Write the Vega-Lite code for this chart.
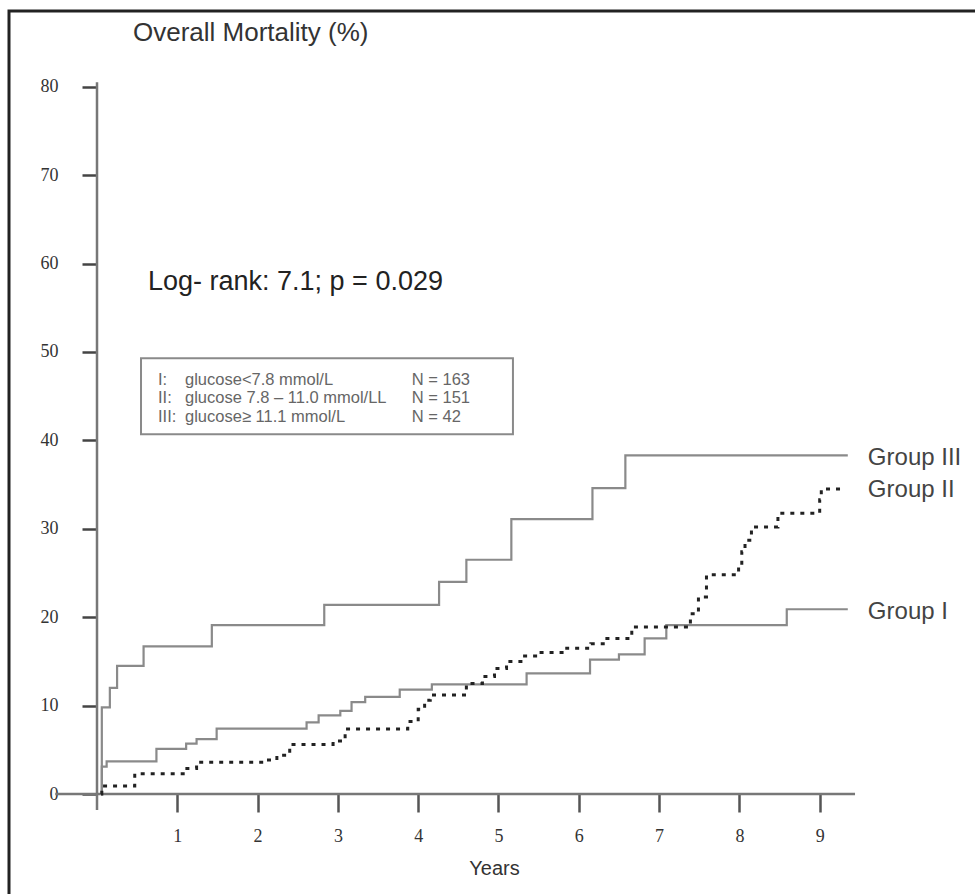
{
  "$schema": "https://vega.github.io/schema/vega-lite/v6.json",
  "width": 970,
  "height": 890,
  "autosize": {"type": "none"},
  "padding": {"left": 9, "top": 11, "right": 0, "bottom": 0},
  "background": "white",
  "config": {
    "view": {"stroke": "#222222", "strokeWidth": 3},
    "axis": {"grid": false, "domain": false, "title": null}
  },
  "datasets": {
    "curves": [
      {"group": "III", "t": 0.05, "v": 0},
      {"group": "III", "t": 0.06, "v": 9.8},
      {"group": "III", "t": 0.16, "v": 12.0},
      {"group": "III", "t": 0.25, "v": 14.5},
      {"group": "III", "t": 0.58, "v": 16.7},
      {"group": "III", "t": 1.43, "v": 19.1},
      {"group": "III", "t": 2.83, "v": 21.4},
      {"group": "III", "t": 4.26, "v": 24.0},
      {"group": "III", "t": 4.6, "v": 26.5},
      {"group": "III", "t": 5.16, "v": 31.1},
      {"group": "III", "t": 6.17, "v": 34.6},
      {"group": "III", "t": 6.58, "v": 38.3},
      {"group": "III", "t": 9.35, "v": 38.3},
      {"group": "I", "t": 0.05, "v": 0},
      {"group": "I", "t": 0.06, "v": 3.1},
      {"group": "I", "t": 0.12, "v": 3.7},
      {"group": "I", "t": 0.74, "v": 5.1},
      {"group": "I", "t": 1.11, "v": 5.7},
      {"group": "I", "t": 1.24, "v": 6.2},
      {"group": "I", "t": 1.49, "v": 7.4},
      {"group": "I", "t": 2.61, "v": 8.1},
      {"group": "I", "t": 2.76, "v": 8.9},
      {"group": "I", "t": 3.03, "v": 9.4},
      {"group": "I", "t": 3.17, "v": 10.4},
      {"group": "I", "t": 3.34, "v": 11.0},
      {"group": "I", "t": 3.77, "v": 11.8},
      {"group": "I", "t": 4.17, "v": 12.4},
      {"group": "I", "t": 5.35, "v": 13.65},
      {"group": "I", "t": 6.14, "v": 15.2},
      {"group": "I", "t": 6.5, "v": 15.8},
      {"group": "I", "t": 6.82, "v": 17.6},
      {"group": "I", "t": 7.09, "v": 19.1},
      {"group": "I", "t": 8.59, "v": 20.9},
      {"group": "I", "t": 9.35, "v": 20.9},
      {"group": "II", "t": 0.05, "v": 0},
      {"group": "II", "t": 0.06, "v": 0.9},
      {"group": "II", "t": 0.47, "v": 2.3},
      {"group": "II", "t": 1.1, "v": 2.9},
      {"group": "II", "t": 1.24, "v": 3.6},
      {"group": "II", "t": 2.07, "v": 3.85},
      {"group": "II", "t": 2.24, "v": 4.4},
      {"group": "II", "t": 2.4, "v": 5.6},
      {"group": "II", "t": 2.94, "v": 6.0},
      {"group": "II", "t": 3.09, "v": 7.35},
      {"group": "II", "t": 3.87, "v": 8.2},
      {"group": "II", "t": 4.0, "v": 9.6},
      {"group": "II", "t": 4.08, "v": 10.6},
      {"group": "II", "t": 4.15, "v": 11.2},
      {"group": "II", "t": 4.6, "v": 12.5},
      {"group": "II", "t": 4.8, "v": 13.3},
      {"group": "II", "t": 4.95, "v": 14.2},
      {"group": "II", "t": 5.1, "v": 15.0},
      {"group": "II", "t": 5.3, "v": 15.6},
      {"group": "II", "t": 5.5, "v": 16.0},
      {"group": "II", "t": 5.85, "v": 16.5},
      {"group": "II", "t": 6.15, "v": 17.0},
      {"group": "II", "t": 6.35, "v": 17.6},
      {"group": "II", "t": 6.66, "v": 18.9},
      {"group": "II", "t": 7.39, "v": 20.4},
      {"group": "II", "t": 7.49, "v": 22.3},
      {"group": "II", "t": 7.59, "v": 24.8},
      {"group": "II", "t": 7.99, "v": 26.1},
      {"group": "II", "t": 8.03, "v": 27.4},
      {"group": "II", "t": 8.07, "v": 28.7},
      {"group": "II", "t": 8.15, "v": 30.2},
      {"group": "II", "t": 8.48, "v": 31.75},
      {"group": "II", "t": 9.0, "v": 33.3},
      {"group": "II", "t": 9.02, "v": 34.5},
      {"group": "II", "t": 9.3, "v": 34.5}
    ],
    "axislines": [
      {"x": -0.52, "x2": 9.44, "y": 0, "y2": 0},
      {"x": 0, "x2": 0, "y": -1.8, "y2": 80.5}
    ],
    "box": [{"x": 0.548, "x2": 5.18, "y": 49.3, "y2": 40.7}],
    "labels": [
      {"x": 0.448, "y": 86.1, "text": "Overall Mortality (%)", "kind": "title"},
      {"x": 0.635, "y": 57.9, "text": "Log- rank: 7.1; p = 0.029", "kind": "logrank"},
      {"x": 9.6, "y": 38.0, "text": "Group III", "kind": "group"},
      {"x": 9.6, "y": 34.4, "text": "Group II", "kind": "group"},
      {"x": 9.6, "y": 20.6, "text": "Group I", "kind": "group"},
      {"x": 0.76, "y": 46.8, "text": "I:", "kind": "legend"},
      {"x": 1.096, "y": 46.8, "text": "glucose<7.8 mmol/L", "kind": "legend"},
      {"x": 3.92, "y": 46.8, "text": "N = 163", "kind": "legend"},
      {"x": 0.76, "y": 44.75, "text": "II:", "kind": "legend"},
      {"x": 1.096, "y": 44.75, "text": "glucose 7.8 – 11.0 mmol/LL", "kind": "legend"},
      {"x": 3.92, "y": 44.75, "text": "N = 151", "kind": "legend"},
      {"x": 0.76, "y": 42.6, "text": "III:", "kind": "legend"},
      {"x": 1.096, "y": 42.6, "text": "glucose≥ 11.1 mmol/L", "kind": "legend"},
      {"x": 3.92, "y": 42.6, "text": "N = 42", "kind": "legend"}
    ]
  },
  "layer": [
    {
      "data": {"name": "axislines"},
      "mark": {"type": "rule", "color": "#777777", "strokeWidth": 2.5},
      "encoding": {
        "x": {"field": "x", "type": "quantitative", "scale": {"domain": [-1.096, 10.984], "nice": false, "zero": false},
          "axis": {"values": [1, 2, 3, 4, 5, 6, 7, 8, 9], "format": "d", "orient": "bottom", "offset": -107, "tickSize": 18, "tickWidth": 2.5, "tickColor": "#555555",
            "labelFont": "Liberation Serif", "labelFontSize": 18, "labelColor": "#333333", "labelPadding": 15, "labelDx": 3,
            "title": "Years", "titleFont": "Liberation Sans", "titleFontSize": 20, "titleFontWeight": "normal", "titleColor": "#333333", "titlePadding": 13}},
        "x2": {"field": "x2"},
        "y": {"field": "y", "type": "quantitative", "scale": {"domain": [-12.1, 88.57], "nice": false, "zero": false},
          "axis": {"values": [0, 10, 20, 30, 40, 50, 60, 70, 80], "orient": "left", "offset": -88, "tickSize": 15, "tickWidth": 2.5, "tickColor": "#444444",
            "labelFont": "Liberation Serif", "labelFontSize": 18, "labelColor": "#333333", "labelPadding": 24}},
        "y2": {"field": "y2"}
      }
    },
    {
      "data": {"name": "box"},
      "mark": {"type": "rect", "fill": null, "fillOpacity": 0, "stroke": "#8a8a8a", "strokeWidth": 2},
      "encoding": {
        "x": {"field": "x", "type": "quantitative"},
        "x2": {"field": "x2"},
        "y": {"field": "y", "type": "quantitative"},
        "y2": {"field": "y2"}
      }
    },
    {
      "data": {"name": "curves"},
      "transform": [{"filter": "datum.group !== 'II'"}],
      "mark": {"type": "line", "interpolate": "step-after", "color": "#8a8a8a", "strokeWidth": 2.2},
      "encoding": {
        "detail": {"field": "group"},
        "x": {"field": "t", "type": "quantitative"},
        "y": {"field": "v", "type": "quantitative"}
      }
    },
    {
      "data": {"name": "curves"},
      "transform": [{"filter": "datum.group === 'II'"}],
      "mark": {"type": "line", "interpolate": "step-after", "color": "#222222", "strokeWidth": 3, "strokeDash": [4, 6]},
      "encoding": {
        "x": {"field": "t", "type": "quantitative"},
        "y": {"field": "v", "type": "quantitative"}
      }
    },
    {
      "data": {"name": "labels"},
      "transform": [{"filter": "datum.kind === 'title'"}],
      "mark": {"type": "text", "align": "left", "baseline": "middle", "font": "Liberation Sans", "fontSize": 26, "color": "#333333"},
      "encoding": {"x": {"field": "x", "type": "quantitative"}, "y": {"field": "y", "type": "quantitative"}, "text": {"field": "text"}}
    },
    {
      "data": {"name": "labels"},
      "transform": [{"filter": "datum.kind === 'logrank'"}],
      "mark": {"type": "text", "align": "left", "baseline": "middle", "font": "Liberation Sans", "fontSize": 27, "color": "#222222"},
      "encoding": {"x": {"field": "x", "type": "quantitative"}, "y": {"field": "y", "type": "quantitative"}, "text": {"field": "text"}}
    },
    {
      "data": {"name": "labels"},
      "transform": [{"filter": "datum.kind === 'group'"}],
      "mark": {"type": "text", "align": "left", "baseline": "middle", "font": "Liberation Sans", "fontSize": 24, "color": "#444444"},
      "encoding": {"x": {"field": "x", "type": "quantitative"}, "y": {"field": "y", "type": "quantitative"}, "text": {"field": "text"}}
    },
    {
      "data": {"name": "labels"},
      "transform": [{"filter": "datum.kind === 'legend'"}],
      "mark": {"type": "text", "align": "left", "baseline": "middle", "font": "Liberation Sans", "fontSize": 16.5, "color": "#666666"},
      "encoding": {"x": {"field": "x", "type": "quantitative"}, "y": {"field": "y", "type": "quantitative"}, "text": {"field": "text"}}
    }
  ]
}
